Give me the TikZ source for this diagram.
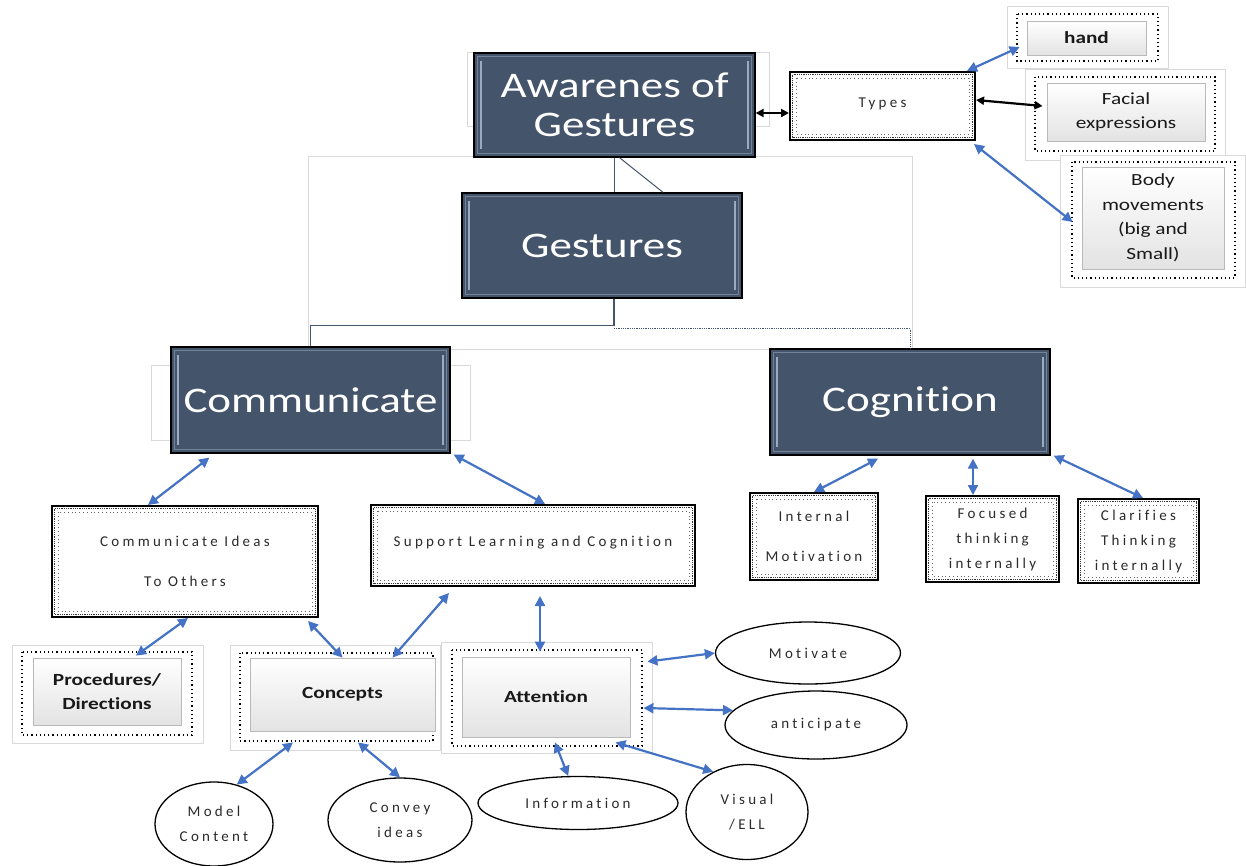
\documentclass[tikz,border=0pt]{standalone}
\usepackage{fontspec}
\usetikzlibrary{arrows.meta,shapes.geometric}
\newfontfamily\bigf[FakeStretch=1.25,Ligatures=NoCommon]{Carlito}
\newfontfamily\lblf[LetterSpace=22,Ligatures=NoCommon]{Carlito}
\definecolor{slate}{HTML}{44546A}
\definecolor{bevel}{HTML}{9AAAC2}
\definecolor{arblue}{HTML}{4472C4}
\definecolor{frm}{HTML}{D9D9D9}
\definecolor{lbltxt}{HTML}{2B2B2B}
\tikzset{
 darkbox/.style={draw=black, line width=1.3pt, fill=slate, text=white, font=\bigf\fontsize{36}{39}\selectfont, align=center, inner sep=0pt},
 darktext/.style={text=white, font=\bigf\fontsize{36}{39}\selectfont, align=center, inner sep=0pt},
 texbox/.style={draw=black, line width=2pt, fill=white, text=lbltxt, font=\lblf\fontsize{15}{25}\selectfont, align=center, inner sep=0pt},
 button/.style={draw=gray!55, line width=0.8pt, top color=white, bottom color=gray!22, text=black!90, font=\bigf\fontsize{17}{24.5}\selectfont, align=center, inner sep=0pt},
 oval/.style={ellipse, draw=black, line width=1.3pt, fill=white, text=lbltxt, font=\lblf\fontsize{15}{25}\selectfont, align=center, inner sep=0pt},
 lightframe/.style={draw=frm, line width=0.8pt},
 outframe/.style={draw=frm, line width=0.8pt, fill=white},
 dotframe/.style={draw=black, line width=1.1pt, dash pattern=on 1.2pt off 3pt},
 barr/.style={arblue, line width=2.2pt, {Triangle[length=10pt,width=10pt]}-{Triangle[length=10pt,width=10pt]}},
 karr/.style={black, line width=2.2pt, {Triangle[length=8pt,width=8pt]}-{Triangle[length=8pt,width=8pt]}},
 conn/.style={slate, line width=1.5pt},
}
\newcommand\bevelme[1]{%
 \draw[bevel!55!slate, line width=1pt] ([xshift=4pt,yshift=-4pt]#1.north west) rectangle ([xshift=-4pt,yshift=4pt]#1.south east);
 \draw[bevel, line width=2.2pt] ([xshift=8pt,yshift=-9pt]#1.north west) -- ([xshift=8pt,yshift=9pt]#1.south west);
 \draw[bevel, line width=2.2pt] ([xshift=-8pt,yshift=-9pt]#1.north east) -- ([xshift=-8pt,yshift=9pt]#1.south east);
}
\newcommand\texme[1]{%
 \draw[black!80, line width=1.2pt, dash pattern=on 0.8pt off 1pt] ([xshift=3.5pt,yshift=-3.5pt]#1.north west) rectangle ([xshift=-3.5pt,yshift=3.5pt]#1.south east);
 \draw[black!60, line width=0.8pt, dash pattern=on 0.8pt off 3pt] ([xshift=7pt,yshift=-7pt]#1.north west) rectangle ([xshift=-7pt,yshift=7pt]#1.south east);
}
\begin{document}
\begin{tikzpicture}[x=1pt,y=-1pt]
\useasboundingbox[fill=white] (0,0) rectangle (1246,865);

% light background frames
\draw[lightframe] (467,52) rectangle (769,126);
\draw[lightframe] (308,156) rectangle (912,349);
\draw[lightframe] (151,365) rectangle (470,440);

% dark boxes
\node[darkbox, minimum width=281pt, minimum height=104pt] (aw) at (614.5,105) {};
\bevelme{aw}
\node[darktext] at (aw) {Awarenes of\\Gestures};
\node[darkbox, minimum width=280pt, minimum height=105pt] (ge) at (602,245.5) {};
\bevelme{ge}
\node[darktext] at (ge) {Gestures};
\node[darkbox, minimum width=279pt, minimum height=106pt] (co) at (310.5,400) {};
\bevelme{co}
\node[darktext] at (co) {Communicate};
\node[darkbox, minimum width=280pt, minimum height=106pt] (cg) at (910,402) {};
\bevelme{cg}
\node[darktext] at (cg) {Cognition};

% connectors of the hierarchy
\draw[conn] (aw.south) -- (aw.south |- ge.north);
\draw[slate, line width=1pt] ([xshift=5pt]aw.south) -- ([xshift=61pt]ge.north);
\draw[conn] ([xshift=12pt]ge.south) -- ++(0,27) -| (co.north);
\draw[slate, line width=0.8pt, densely dotted] ([xshift=12pt]ge.south) ++(0,30) -| (cg.north);

% textured boxes
\node[texbox, minimum width=185pt, minimum height=68pt] (types) at (882.5,106) {\raisebox{6pt}{Types}};
\texme{types}
\node[texbox, minimum width=266pt, minimum height=111pt] (cio) at (185,561.5) {Communicate Ideas\\[15pt]To Others};
\texme{cio}
\node[texbox, minimum width=324pt, minimum height=81pt] (slc) at (533,545.5) {\raisebox{8pt}{Support Learning and Cognition}};
\texme{slc}
\node[texbox, minimum width=128pt, minimum height=87pt] (im) at (814,536.5) {Internal\\[15pt]Motivation};
\texme{im}
\node[texbox, minimum width=133pt, minimum height=86pt] (ft) at (992.5,539) {Focused\\thinking\\internally};
\texme{ft}
\node[texbox, minimum width=121pt, minimum height=84pt] (ct) at (1138.5,541) {Clarifies\\Thinking\\internally};
\texme{ct}

% buttons in frames
\draw[outframe] (1007,6) rectangle (1168,68);
\draw[dotframe] (1017,14) rectangle (1158,61);
\node[button, minimum width=119pt, minimum height=34pt] (hand) at (1086.5,38) {\bfseries hand};
\draw[outframe] (1025,69) rectangle (1225,160);
\draw[dotframe] (1035,77) rectangle (1215,151);
\node[button, minimum width=158pt, minimum height=58pt] (fac) at (1126,112) {Facial\\expressions};
\draw[outframe] (1060,155) rectangle (1245,287);
\draw[dotframe] (1072,162) rectangle (1235,278);
\node[button, minimum width=142pt, minimum height=102pt] (body) at (1153,218) {Body\\movements\\(big and\\Small)};

\draw[outframe] (12,645) rectangle (203,743);
\draw[dotframe] (22,652) rectangle (192,735);
\node[button, minimum width=148pt, minimum height=67pt] (proc) at (107,691.5) {\bfseries Procedures/\\\bfseries Directions};
\draw[outframe] (230,645) rectangle (440,750);
\draw[dotframe] (240,653) rectangle (433,741);
\node[button, minimum width=185pt, minimum height=73pt] (conc) at (342.5,694.5) {\bfseries Concepts};
\draw[outframe] (441,642) rectangle (652,753);
\draw[dotframe] (452,650) rectangle (642,746);
\node[button, minimum width=168pt, minimum height=80pt] (att) at (546,697) {\bfseries Attention};

% ellipses
\node[oval, minimum width=185pt, minimum height=62pt] (mot) at (808,653) {Motivate};
\node[oval, minimum width=182pt, minimum height=68pt] (ant) at (816,725) {anticipate};
\node[oval, minimum width=118pt, minimum height=84pt] (mc) at (214,824) {Model\\Content};
\node[oval, minimum width=144pt, minimum height=84pt] (cv) at (400,820) {Convey\\ideas};
\node[oval, minimum width=200pt, minimum height=53pt] (inf) at (578,803) {Information};
\node[oval, minimum width=122pt, minimum height=95pt] (vis) at (747,812) {Visual\\/ELL};

% arrows
\draw[karr] ([yshift=-8pt]aw.east) -- ([yshift=-8pt]aw.east -| types.west);
\draw[barr] ([xshift=-9pt]types.north east) -- ([xshift=-7pt,yshift=-9pt]hand.west);
\draw[karr] ([yshift=6pt]types.east) -- ([xshift=-4pt,yshift=6pt]fac.west);
\draw[barr] ([xshift=-2pt,yshift=-3pt]types.south east) -- ([xshift=-9pt,yshift=-4pt]body.west);
\draw[barr] ([xshift=39pt,yshift=-4pt]co.south west) -- ([xshift=-37pt]cio.north);
\draw[barr] ([xshift=3pt,yshift=-1pt]co.south east) -- ([xshift=12pt]slc.north);
\draw[barr] ([xshift=-32pt,yshift=-3pt]cg.south) -- (im.north);
\draw[barr] ([xshift=63pt,yshift=-3pt]cg.south) -- ([xshift=-19.5pt]ft.north);
\draw[barr] ([xshift=3pt]cg.south east) -- ([xshift=4.5pt]ct.north);
\draw[barr] ([xshift=3pt]cio.south) -- ([xshift=29pt,yshift=2pt]proc.north);
\draw[barr] ([xshift=-11pt,yshift=-3pt]cio.south east) -- (conc.north);
\draw[barr] ([xshift=79pt,yshift=-6pt]slc.south west) -- ([xshift=50pt]conc.north);
\draw[barr] ([xshift=7pt,yshift=-9pt]slc.south) -- ([xshift=-6pt,yshift=5pt]att.north);
\draw[barr] ([xshift=17pt,yshift=-5pt]att.north east) -- (mot.west);
\draw[barr] ([xshift=13pt,yshift=-11pt]att.east) -- (ant.170);
\draw[barr] ([xshift=-49.5pt,yshift=-11pt]conc.south) -- (mc.60);
\draw[barr] ([xshift=15.5pt,yshift=-11pt]conc.south) -- (cv.north);
\draw[barr] ([xshift=9pt,yshift=-5pt]att.south) -- (inf.110);
\draw[barr] ([xshift=-15pt,yshift=-5pt]att.south east) -- (vis.130);
\end{tikzpicture}
\end{document}
